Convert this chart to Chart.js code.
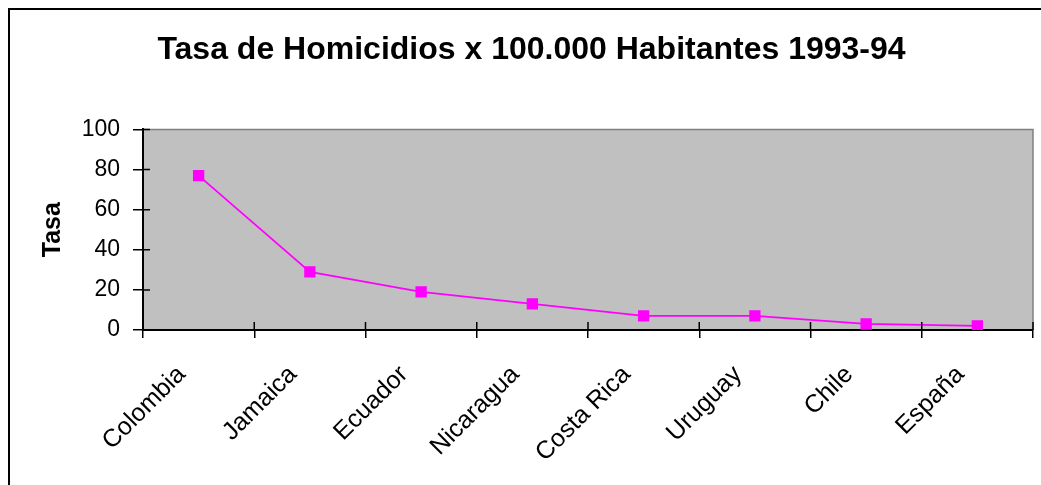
<!DOCTYPE html>
<html>
<head>
<meta charset="utf-8">
<script src="https://cdn.jsdelivr.net/npm/chart.js@4/dist/chart.umd.min.js"></script>
<style>
  html, body { margin: 0; padding: 0; background: #fff; }
  #wrap { position: absolute; left: 0; top: 0; width: 1041px; height: 485px; }
</style>
</head>
<body>
<div id="wrap"><canvas id="c" width="1041" height="485"></canvas></div>
<script>
const categories = ['Colombia', 'Jamaica', 'Ecuador', 'Nicaragua', 'Costa Rica', 'Uruguay', 'Chile', 'España'];
const tasa = [77, 29, 19, 13, 7, 7, 3, 2];
const yTicks = [0, 20, 40, 60, 80, 100];
const titleText = 'Tasa de Homicidios x 100.000 Habitantes 1993-94';
const yTitle = 'Tasa';

const FONT = 'Arial, "Liberation Sans", sans-serif';

const framePlugin = {
  id: 'frame',
  beforeDraw(chart) {
    const { ctx, chartArea: a } = chart;
    ctx.save();
    ctx.fillStyle = '#fff';
    ctx.fillRect(0, 0, chart.width, chart.height);
    ctx.strokeStyle = '#000';
    ctx.lineWidth = 2;
    ctx.strokeRect(9, 9, 2000, 2000);
    ctx.fillStyle = '#C0C0C0';
    ctx.fillRect(a.left, a.top, a.right - a.left, a.bottom - a.top);
    ctx.strokeStyle = '#808080';
    ctx.lineWidth = 1.5;
    ctx.beginPath();
    ctx.moveTo(a.left, a.top);
    ctx.lineTo(a.right, a.top);
    ctx.lineTo(a.right, a.bottom);
    ctx.stroke();
    ctx.restore();
  },
  afterDatasetsDraw(chart) {
    const { ctx, chartArea: a, scales } = chart;
    ctx.save();
    ctx.strokeStyle = '#000';
    ctx.lineWidth = 1.5;
    ctx.beginPath();
    for (let i = 0; i <= categories.length; i++) {
      const x = scales.x.getPixelForValue(i - 0.5);
      ctx.moveTo(x, a.bottom);
      ctx.lineTo(x, a.bottom - 8);
    }
    yTicks.forEach(v => {
      const y = scales.y.getPixelForValue(v);
      ctx.moveTo(a.left, y);
      ctx.lineTo(a.left + 7, y);
    });
    ctx.stroke();
    ctx.restore();
  }
};

new Chart(document.getElementById('c'), {
  type: 'line',
  data: {
    labels: categories,
    datasets: [{
      data: tasa,
      borderColor: '#FF00FF',
      backgroundColor: '#FF00FF',
      borderWidth: 1.75,
      pointStyle: 'rect',
      pointRadius: 8,
      pointBorderWidth: 0,
      pointBackgroundColor: '#FF00FF',
      tension: 0,
      fill: false
    }]
  },
  options: {
    responsive: false,
    animation: false,
    layout: { padding: { left: 26, right: 4, top: 8, bottom: 0 } },
    plugins: {
      legend: { display: false },
      tooltip: { enabled: false },
      title: {
        display: true,
        text: titleText,
        color: '#000',
        font: { family: FONT, size: 32, weight: 'bold', lineHeight: 1.2 },
        padding: { top: 23, bottom: 60 }
      }
    },
    scales: {
      x: {
        type: 'category',
        offset: true,
        grid: {
          offset: true,
          drawOnChartArea: false,
          drawTicks: true,
          tickLength: 8,
          color: '#000',
          lineWidth: 1.5
        },
        border: { display: true, color: '#000', width: 2 },
        ticks: {
          color: '#000',
          font: { family: FONT, size: 25 },
          minRotation: 45,
          maxRotation: 45,
          autoSkip: false,
          padding: 22,
          labelOffset: -17
        },
        afterFit(scale) { scale.height = 155; }
      },
      y: {
        min: 0,
        max: 100,
        afterBuildTicks(scale) { scale.ticks = yTicks.map(v => ({ value: v })); },
        grid: {
          drawOnChartArea: false,
          drawTicks: true,
          tickLength: 10,
          color: '#000',
          lineWidth: 1.5
        },
        border: { display: true, color: '#000', width: 2 },
        ticks: {
          color: '#000',
          font: { family: FONT, size: 23 },
          padding: 13
        },
        title: {
          display: true,
          text: yTitle,
          color: '#000',
          font: { family: FONT, size: 25, weight: 'bold', lineHeight: 1.2 },
          padding: { top: 12, bottom: 0 }
        },
        afterFit(scale) { scale.width = 117; }
      }
    }
  },
  plugins: [framePlugin]
});
</script>
</body>
</html>
